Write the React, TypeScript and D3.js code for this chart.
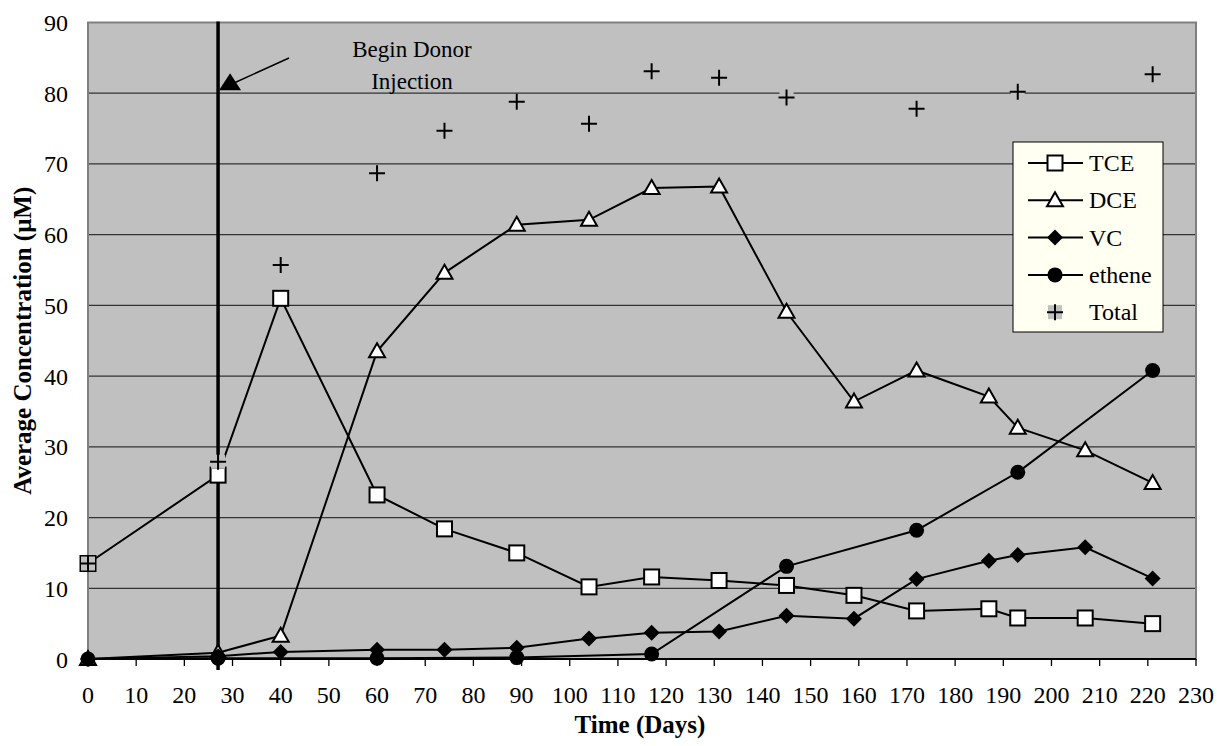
import React from "react";
import * as d3 from "d3";

// sampling days and measured concentrations (uM)
const days = [0, 27, 40, 60, 74, 89, 104, 117, 131, 145, 159, 172, 187, 193, 207, 221];
const tce = [13.5, 26, 51, 23.2, 18.4, 15.0, 10.2, 11.6, 11.1, 10.4, 9.0, 6.8, 7.1, 5.8, 5.8, 5.0];
const dce = [0, 0.9, 3.3, 43.5, 54.6, 61.4, 62.1, 66.6, 66.8, 49.1, 36.4, 40.8, 37.1, 32.7, 29.5, 24.9];
const vc = [0, 0.4, 1.0, 1.3, 1.3, 1.6, 2.9, 3.7, 3.9, 6.1, 5.7, 11.3, 13.9, 14.7, 15.8, 11.4];

const etheneDays = [0, 27, 60, 89, 117, 145, 172, 193, 221];
const ethene = [0, 0.1, 0.1, 0.2, 0.7, 13.1, 18.2, 26.4, 40.8];

const totalDays = [0, 27, 40, 60, 74, 89, 104, 117, 131, 145, 172, 193, 221];
const total = [13.5, 27.9, 55.7, 68.7, 74.7, 78.8, 75.7, 83.1, 82.2, 79.4, 77.8, 80.2, 82.7];

const xTicks = d3.range(0, 231, 10);
const yTicks = d3.range(0, 91, 10);
const injectionDay = 27;

const legendNames = ["TCE", "DCE", "VC", "ethene", "Total"];

const W = 1217;
const H = 746;
const margin = { top: 22.5, right: 21, bottom: 87, left: 88 };
const font = "'Times New Roman', 'Liberation Serif', serif";

type Shape = "square" | "triangle" | "diamond" | "circle" | "plus";

const Marker = ({ shape, x, y }: { shape: Shape; x: number; y: number }) => {
  if (shape === "square")
    return <rect x={x - 7.5} y={y - 7.5} width={15} height={15} fill="#fff" stroke="#000" strokeWidth={2} />;
  if (shape === "triangle")
    return <path d={`M${x},${y - 8}L${x + 8},${y + 6}L${x - 8},${y + 6}Z`} fill="#fff" stroke="#000" strokeWidth={2} />;
  if (shape === "diamond")
    return <path d={`M${x},${y - 8}L${x + 8},${y}L${x},${y + 8}L${x - 8},${y}Z`} fill="#000" />;
  if (shape === "circle") return <circle cx={x} cy={y} r={7.5} fill="#000" />;
  return (
    <g>
      <rect x={x - 7} y={y - 7} width={14} height={14} fill="#c0c0c0" />
      <path d={`M${x - 8},${y}H${x + 8}M${x},${y - 8}V${y + 8}`} stroke="#000" strokeWidth={2} />
    </g>
  );
};

export default function App() {
  const x = d3
    .scaleLinear()
    .domain([0, 230])
    .range([margin.left, W - margin.right]);
  const y = d3
    .scaleLinear()
    .domain([0, 90])
    .range([H - margin.bottom, margin.top]);

  const line = d3
    .line<[number, number]>()
    .x((d) => x(d[0]))
    .y((d) => y(d[1]));

  const series: { pts: [number, number][]; shape: Shape; joined: boolean }[] = [
    { pts: days.map((d, i) => [d, tce[i]]), shape: "square", joined: true },
    { pts: days.map((d, i) => [d, dce[i]]), shape: "triangle", joined: true },
    { pts: days.map((d, i) => [d, vc[i]]), shape: "diamond", joined: true },
    { pts: etheneDays.map((d, i) => [d, ethene[i]]), shape: "circle", joined: true },
    { pts: totalDays.map((d, i) => [d, total[i]]), shape: "plus", joined: false },
  ];
  const legendShapes: Shape[] = ["square", "triangle", "diamond", "circle", "plus"];

  const x0 = x(0);
  const x1 = x(230);
  const yb = y(0);
  const yt = y(90);
  const xi = x(injectionDay);

  const lgX = 1013;
  const lgY = 142;

  return (
    <svg width={W} height={H} style={{ position: "absolute", left: 0, top: 0, background: "#fff" }} fontFamily={font}>
      <rect x={x0} y={yt} width={x1 - x0} height={yb - yt} fill="#c0c0c0" />
      {yTicks.slice(1, -1).map((t) => (
        <line key={t} x1={x0} x2={x1} y1={y(t)} y2={y(t)} stroke="#333" strokeWidth={1.3} />
      ))}
      <rect x={x0} y={yt} width={x1 - x0} height={yb - yt} fill="none" stroke="#808080" strokeWidth={2} />
      <line x1={x0} x2={x1} y1={yb} y2={yb} stroke="#000" strokeWidth={2} />
      {xTicks.map((t) => (
        <g key={t}>
          <line x1={x(t)} x2={x(t)} y1={yb} y2={yb + 7} stroke="#000" strokeWidth={1.3} />
          <text x={x(t)} y={703} textAnchor="middle" fontSize={24}>
            {t}
          </text>
        </g>
      ))}
      {yTicks.map((t) => (
        <text key={t} x={68} y={y(t) + 8.5} textAnchor="end" fontSize={24}>
          {t}
        </text>
      ))}

      {series.map((s, i) =>
        s.joined ? <path key={i} d={line(s.pts) || ""} fill="none" stroke="#000" strokeWidth={2} /> : null
      )}

      <line x1={xi} x2={xi} y1={yt - 1} y2={yb + 11} stroke="#000" strokeWidth={3.5} />

      {series.map((s, i) => (
        <g key={i}>
          {s.pts.map((p, j) => (
            <Marker key={j} shape={s.shape} x={x(p[0])} y={y(p[1])} />
          ))}
        </g>
      ))}

      {/* annotation */}
      <line x1={289} y1={58} x2={234} y2={83} stroke="#000" strokeWidth={1.5} />
      <path d={`M${xi + 1},${y(80) - 3}L${xi + 23},${y(80) - 3}L${xi + 12},${y(80) - 20}Z`} fill="#000" />
      <text x={412} y={57} textAnchor="middle" fontSize={23}>
        Begin Donor
      </text>
      <text x={412} y={88.5} textAnchor="middle" fontSize={23}>
        Injection
      </text>

      {/* legend */}
      <rect x={lgX} y={lgY} width={150} height={190} fill="#fffff2" stroke="#000" strokeWidth={1} />
      {legendNames.map((n, i) => {
        const ly = lgY + 21 + i * 37.3;
        return (
          <g key={n}>
            {i < 4 && <line x1={1028} x2={1083} y1={ly} y2={ly} stroke="#000" strokeWidth={2} />}
            <Marker shape={legendShapes[i]} x={1055} y={ly} />
            <text x={1089} y={ly + 8} fontSize={24}>
              {n}
            </text>
          </g>
        );
      })}

      <text x={640} y={733} textAnchor="middle" fontSize={25} fontWeight="bold">
        Time (Days)
      </text>
      <text
        transform={`translate(31,${(yt + yb) / 2}) rotate(-90)`}
        textAnchor="middle"
        fontSize={25}
        fontWeight="bold"
      >
        Average Concentration (μM)
      </text>
    </svg>
  );
}
